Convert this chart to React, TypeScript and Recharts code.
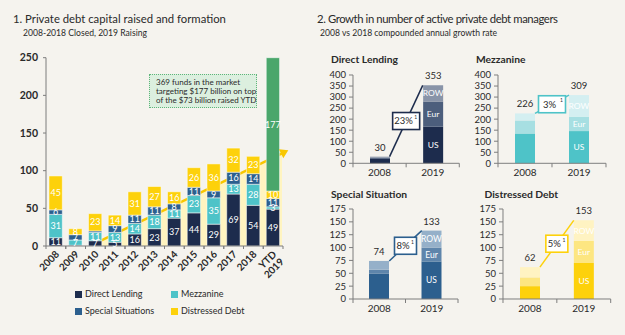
import React from 'react';
import { ComposedChart, BarChart, Bar, Area, XAxis, YAxis, LabelList, ReferenceLine } from 'recharts';

const FONT = 'Lato, "Open Sans", sans-serif';
const BG = '#f5f3ee';
const AXIS = '#7d7d7d';
const INK = '#2a2a2a';

// ---- chart 1: capital raised ($bn)
const years = ['2008', '2009', '2010', '2011', '2012', '2013', '2014', '2015', '2016', '2017', '2018', 'YTD 2019'];
const directLending = [11, 1, 7, 5, 16, 23, 37, 44, 29, 69, 54, 49];
const mezzanine = [31, 7, 11, 13, 14, 18, 11, 23, 35, 13, 28, 3];
const specialSituations = [6, 7, 2, 9, 11, 11, 8, 11, 9, 16, 14, 11];
const distressedDebt = [45, 8, 23, 14, 31, 27, 16, 26, 36, 32, 23, 10];
const raising = [0, 0, 0, 0, 0, 0, 0, 0, 0, 0, 0, 177];
const leftTicks = [0, 50, 100, 150, 200, 250];

// trend arrow (start / end in category units)
const trendX = [2.2, 11.45];
const trendY = [6, 123];

// ---- chart 2: number of managers
const miniYears = ['2008', '2019'];
const dlUS = [20, 165];
const dlEur = [5, 115];
const dlRow = [5, 73];
const dlTotal = [30, 353];
const mzUS = [135, 146];
const mzEur = [59, 64];
const mzRow = [32, 99];
const mzTotal = [226, 309];
const ssUS = [49, 73];
const ssEur = [8, 27];
const ssRow = [17, 33];
const ssTotal = [74, 133];
const ddUS = [25, 70];
const ddEur = [17, 43];
const ddRow = [20, 40];
const ddTotal = [62, 153];
const ticks400 = [0, 50, 100, 150, 200, 250, 300, 350, 400];
const ticks175 = [0, 25, 50, 75, 100, 125, 150, 175];

const C = {
  dl: '#1d2c4d',
  mz: '#4ec3c8',
  ss: '#2c5f8e',
  dd: '#fdd10b',
  raising: '#4aa66b',
};

const LEFT_W = 300;
const LEFT_PLOT_L = 46;
const LEFT_PLOT_R = 283;
const STEP = (LEFT_PLOT_R - LEFT_PLOT_L) / years.length;
const X_DOMAIN: [number, number] = [-0.5, years.length - 0.5];

const leftData = years.map((name, i) => ({
  x: i,
  name,
  dl: directLending[i],
  mz: mezzanine[i],
  ss: specialSituations[i],
  dd: distressedDebt[i],
  raising: raising[i],
}));

const trendData = trendX.map((x, i) => ({ x, y: trendY[i] }));

const hideSmall = (v: any) => (Number(v) >= 3 ? v : '');

const Txt = ({ x, y, size, weight, color, spacing, children }: any) => (
  <div
    style={{
      position: 'absolute',
      left: x,
      top: y - 8,
      height: 16,
      lineHeight: '16px',
      fontSize: size,
      fontWeight: weight || 400,
      color: color || INK,
      letterSpacing: spacing || 0,
      whiteSpace: 'nowrap',
    }}
  >
    {children}
  </div>
);

const YearTick = (props: any) => {
  const { x, y, payload } = props;
  const v = payload.value;
  const parts = years[v].split(' ');
  const tx = x + 4;
  const ty = y + 9;
  return (
    <g>
      <line x1={x - STEP / 2} x2={x - STEP / 2} y1={y} y2={y + 3} stroke={AXIS} />
      <line x1={x + STEP / 2} x2={x + STEP / 2} y1={y} y2={y + 3} stroke={AXIS} />
      <text
        x={tx}
        y={ty}
        textAnchor="end"
        fontSize={10}
        fontWeight={700}
        fill={INK}
        transform={`rotate(-45 ${tx} ${ty})`}
      >
        {parts.map((p, k) => (
          <tspan key={k} x={tx} dy={k === 0 ? 0 : 10.5}>
            {p}
          </tspan>
        ))}
      </text>
    </g>
  );
};

const ArrowHead = (props: any) => {
  const { cx, cy, index } = props;
  if (index !== trendData.length - 1) return <g key={`d${index}`} />;
  return (
    <polygon
      key={`d${index}`}
      points="-1,-5 7,0 -1,5"
      fill="#f8c700"
      transform={`translate(${cx} ${cy}) rotate(-25.8)`}
    />
  );
};

const LeftChart = () => (
  <div style={{ position: 'absolute', left: 0, top: 0 }}>
    <ComposedChart
      width={LEFT_W}
      height={335}
      data={leftData}
      margin={{ top: 57.7, right: LEFT_W - LEFT_PLOT_R, bottom: 69, left: 0 }}
    >
      <XAxis
        dataKey="x"
        type="number"
        domain={X_DOMAIN}
        ticks={years.map((_, i) => i)}
        interval={0}
        height={20}
        tickSize={0}
        tickMargin={0}
        tickLine={false}
        axisLine={{ stroke: AXIS }}
        tick={<YearTick />}
      />
      <XAxis xAxisId="trend" dataKey="x" type="number" domain={X_DOMAIN} hide />
      <YAxis
        domain={[0, 250]}
        ticks={leftTicks}
        interval={0}
        width={LEFT_PLOT_L}
        tickSize={3}
        tickMargin={5}
        axisLine={{ stroke: AXIS }}
        tickLine={{ stroke: AXIS }}
        tick={{ fontSize: 10.5, fontWeight: 700, fill: INK }}
      />
      <Area
        xAxisId="trend"
        data={trendData}
        dataKey="y"
        type="linear"
        stroke="#f8c700"
        strokeWidth={2.5}
        fill="#fff4c0"
        fillOpacity={1}
        dot={<ArrowHead />}
        activeDot={false}
        isAnimationActive={false}
      />
      {(['dl', 'mz', 'ss', 'dd', 'raising'] as const).map((k) => (
        <Bar
          key={k}
          dataKey={k}
          stackId="a"
          fill={C[k]}
          barSize={13.3}
          stroke="#ffffff"
          strokeWidth={0.5}
          isAnimationActive={false}
        >
          <LabelList dataKey={k} position="center" fill="#ffffff" fontSize={9} formatter={hideSmall} />
        </Bar>
      ))}
    </ComposedChart>
  </div>
);

const RateBox = (props: any) => {
  const { viewBox, text, color, w } = props;
  const vb = viewBox || {};
  const cx = vb.x + (vb.width || 0) / 2;
  const cy = vb.y + (vb.height || 0) / 2;
  return (
    <g>
      <rect x={cx - w / 2} y={cy - 8.5} width={w} height={17} fill="#ffffff" stroke={color} strokeWidth={1.6} />
      <text x={cx - 2.5} y={cy + 3.3} textAnchor="middle" fontSize={9.5} fill={INK}>
        {text}
      </text>
      <text x={cx + w / 2 - 4} y={cy - 2} textAnchor="middle" fontSize={5} fill={INK}>
        1
      </text>
    </g>
  );
};

const MiniTick = (props: any) => {
  const { x, y, payload } = props;
  const v = payload.value;
  if (Number.isInteger(v)) {
    return <line x1={x} x2={x} y1={y} y2={y + 4} stroke={AXIS} />;
  }
  return (
    <text x={x} y={y + 13} textAnchor="middle" fontSize={10} fill={INK}>
      {miniYears[Math.floor(v)]}
    </text>
  );
};

type MiniProps = {
  title: string;
  titleX: number;
  titleY: number;
  plotLeft: number;
  plotTop: number;
  plotW: number;
  plotH: number;
  us: number[];
  eur: number[];
  row: number[];
  totals: number[];
  yTicks: number[];
  colors: string[];
  rate: string;
  rateColor: string;
  boxW: number;
};

const MiniChart = (p: MiniProps) => {
  const data = miniYears.map((name, i) => ({
    x: i + 0.5,
    name,
    us: p.us[i],
    eur: p.eur[i],
    row: p.row[i],
    total: p.totals[i],
    usName: i === 1 ? 'US' : '',
    eurName: i === 1 ? 'Eur' : '',
    rowName: i === 1 ? 'ROW' : '',
  }));
  const barSize = 20;
  const hb = barSize / 2 / (p.plotW / 2);
  const yMax = p.yTicks[p.yTicks.length - 1];
  return (
    <>
      <Txt x={p.titleX} y={p.titleY} size={10.3} weight={700}>
        {p.title}
      </Txt>
      <div style={{ position: 'absolute', left: p.plotLeft - 45, top: p.plotTop - 20 }}>
        <BarChart
          width={p.plotW + 60}
          height={p.plotH + 40}
          data={data}
          margin={{ top: 20, right: 15, bottom: 0, left: 0 }}
        >
          <XAxis
            dataKey="x"
            type="number"
            domain={[0, 2]}
            ticks={[0, 0.5, 1, 1.5, 2]}
            interval={0}
            height={20}
            tickSize={0}
            tickMargin={0}
            tickLine={false}
            axisLine={{ stroke: AXIS }}
            tick={<MiniTick />}
          />
          <YAxis
            domain={[0, yMax]}
            ticks={p.yTicks}
            interval={0}
            width={45}
            tickSize={4}
            tickMargin={3}
            axisLine={{ stroke: AXIS }}
            tickLine={{ stroke: AXIS }}
            tick={{ fontSize: 9.5, fill: INK }}
          />
          <Bar dataKey="us" stackId="m" fill={p.colors[0]} barSize={barSize} isAnimationActive={false}>
            <LabelList dataKey="usName" position="center" fill="#ffffff" fontSize={8.5} />
          </Bar>
          <Bar dataKey="eur" stackId="m" fill={p.colors[1]} barSize={barSize} isAnimationActive={false}>
            <LabelList dataKey="eurName" position="center" fill="#ffffff" fontSize={8.5} />
          </Bar>
          <Bar dataKey="row" stackId="m" fill={p.colors[2]} barSize={barSize} isAnimationActive={false}>
            <LabelList dataKey="rowName" position="center" fill="#ffffff" fontSize={8.5} />
            <LabelList dataKey="total" position="top" offset={6} fill={INK} fontSize={9.5} />
          </Bar>
          <ReferenceLine
            segment={[
              { x: 0.5 + hb, y: p.totals[0] },
              { x: 1.5 - hb, y: p.totals[1] },
            ]}
            stroke={p.rateColor}
            strokeWidth={1.5}
            label={<RateBox text={p.rate} color={p.rateColor} w={p.boxW} />}
          />
        </BarChart>
      </div>
    </>
  );
};

const LegendItem = ({ x, y, color, label }: any) => (
  <>
    <div style={{ position: 'absolute', left: x, top: y - 3.5, width: 7, height: 7, background: color }} />
    <Txt x={x + 10} y={y} size={9}>
      {label}
    </Txt>
  </>
);

export default function App() {
  return (
    <div
      style={{
        position: 'absolute',
        left: 0,
        top: 0,
        width: 625,
        height: 335,
        background: BG,
        fontFamily: FONT,
        overflow: 'hidden',
      }}
    >
      <Txt x={13} y={19} size={11.3}>
        1. Private debt capital raised and formation
      </Txt>
      <Txt x={23} y={33} size={8.6}>
        2008-2018 Closed, 2019 Raising
      </Txt>
      <Txt x={317} y={19} size={11.3} spacing={-0.4}>
        2. Growth in number of active private debt managers
      </Txt>
      <Txt x={320} y={33} size={8.6}>
        2008 vs 2018 compounded annual growth rate
      </Txt>

      <LeftChart />

      <div
        style={{
          position: 'absolute',
          left: 149,
          top: 74,
          width: 108,
          height: 34,
          background: '#dcefdf',
          border: '1px dotted #5fb57a',
          fontSize: 8,
          lineHeight: '9.2px',
          color: INK,
          padding: '3px 0 0 6px',
          boxSizing: 'border-box',
          whiteSpace: 'nowrap',
        }}
      >
        369 funds in the market
        <br />
        targeting $177 billion on top
        <br />
        of the $73 billion raised YTD
      </div>

      <LegendItem x={75} y={294} color={C.dl} label="Direct Lending" />
      <LegendItem x={171} y={294} color={C.mz} label="Mezzanine" />
      <LegendItem x={75} y={311} color={C.ss} label="Special Situations" />
      <LegendItem x={171} y={311} color={C.dd} label="Distressed Debt" />

      <MiniChart
        title="Direct Lending"
        titleX={331}
        titleY={59}
        plotLeft={352.7}
        plotTop={75}
        plotW={106.3}
        plotH={88.3}
        us={dlUS}
        eur={dlEur}
        row={dlRow}
        totals={dlTotal}
        yTicks={ticks400}
        colors={['#1d2c4d', '#4c5e7c', '#8994a8']}
        rate="23%"
        rateColor="#1d2c4d"
        boxW={27}
      />
      <MiniChart
        title="Mezzanine"
        titleX={476}
        titleY={59}
        plotLeft={498.3}
        plotTop={75}
        plotW={108}
        plotH={88.3}
        us={mzUS}
        eur={mzEur}
        row={mzRow}
        totals={mzTotal}
        yTicks={ticks400}
        colors={['#4ec3c8', '#a7dfe2', '#d4eff1']}
        rate="3%"
        rateColor="#4ec3c8"
        boxW={27}
      />
      <MiniChart
        title="Special Situation"
        titleX={331}
        titleY={194}
        plotLeft={352.7}
        plotTop={209.3}
        plotW={105}
        plotH={90}
        us={ssUS}
        eur={ssEur}
        row={ssRow}
        totals={ssTotal}
        yTicks={ticks175}
        colors={['#2c5f8e', '#5e85ab', '#95b0c9']}
        rate="8%"
        rateColor="#2c5f8e"
        boxW={22}
      />
      <MiniChart
        title="Distressed Debt"
        titleX={484.5}
        titleY={194}
        plotLeft={503.3}
        plotTop={209.3}
        plotW={107.7}
        plotH={90}
        us={ddUS}
        eur={ddEur}
        row={ddRow}
        totals={ddTotal}
        yTicks={ticks175}
        colors={['#fdd10b', '#fde681', '#fff3c2']}
        rate="5%"
        rateColor="#fdd10b"
        boxW={22}
      />
    </div>
  );
}
